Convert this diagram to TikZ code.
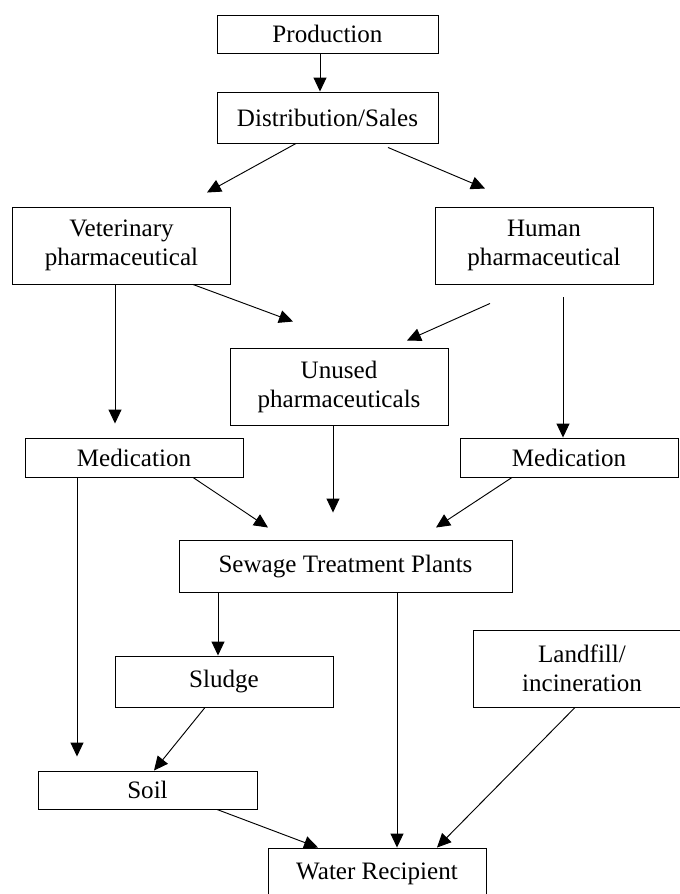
\documentclass[tikz,border=0pt]{standalone}
\usepackage{fontspec}
\setmainfont{Liberation Serif}
\usepackage{tikz}
\usetikzlibrary{arrows.meta}

\begin{document}
\begin{tikzpicture}[
x=0.03cm,y=-0.03cm,
box/.style={draw,rectangle,line width=0.8pt,inner sep=0pt,minimum width=6.54cm,align=center,
    font=\fontsize{21.4}{24.7}\selectfont},
flow/.style={line width=0.8pt,-{Triangle[length=0.42cm,width=0.39cm]}}]
\useasboundingbox (0,0) rectangle (680,894);
\clip (0,0) rectangle (680,894);

\node (prod) [box,minimum width=6.63cm,minimum height=1.14cm] at (327.5,34) {Production};
\node (dist) [box,minimum width=6.63cm,minimum height=1.53cm] at (327.5,117.5) {Distribution/Sales};
\node (vet) [box,minimum height=2.31cm] at (121.5,245.5) {Veterinary\\pharmaceutical};
\node (hum) [box,minimum height=2.31cm] at (544,245.5) {Human\\pharmaceutical};
\node (unused) [box,minimum height=2.31cm] at (339,386.5) {Unused\\pharmaceuticals};
\node (medl) [box,minimum height=1.17cm] at (134,457.5) {Medication};
\node (medr) [box,minimum height=1.17cm] at (569,457.5) {Medication};
\node (stp) [box,minimum width=9.99cm,minimum height=1.56cm] at (345.5,566) {Sewage Treatment Plants};
\node (sludge) [box,minimum height=1.53cm] at (224,681.5) {Sludge};
\node (landfill) [box,minimum height=2.31cm] at (582,668.5) {Landfill/\\incineration};
\node (soil) [box,minimum width=6.57cm,minimum height=1.14cm] at (147.5,790) {Soil};
\node (water) [box,minimum height=1.56cm] at (377,874) {\raisebox{0.18cm}{Water Recipient}};

\draw [flow] ([shift={(-7.5,0)}]prod.south) -- ([shift={(-7.5,0)}]dist.north);
\draw [flow] ([shift={(-31.5,0)}]dist.south) -- ([shift={(85.5,-14)}]vet.north);
\draw [flow] ([shift={(60.5,4)}]dist.south) -- ([shift={(-59,-18)}]hum.north);
\draw [flow] ([shift={(71.5,0)}]vet.south) -- ([shift={(-46,-26)}]unused.north);
\draw [flow] ([shift={(-6.5,0)}]vet.south) -- ([shift={(-19,-14)}]medl.north);
\draw [flow] ([shift={(-54,19)}]hum.south) -- ([shift={(68,-7)}]unused.north);
\draw [flow] ([shift={(19,13)}]hum.south) -- ([shift={(-6,0)}]medr.north);
\draw [flow] ([shift={(-6,0)}]unused.south) -- ([shift={(-12.5,-27)}]stp.north);
\draw [flow] ([shift={(59,0)}]medl.south) -- ([shift={(-77.5,-12)}]stp.north);
\draw [flow] ([shift={(-57,0)}]medr.south) -- ([shift={(90.5,-12)}]stp.north);
\draw [flow] ([shift={(-57,0)}]medl.south) -- ([shift={(-70.5,-14)}]soil.north);
\draw [flow] ([shift={(-127.5,0)}]stp.south) -- ([shift={(-6,0)}]sludge.north);
\draw [flow] ([shift={(51.5,0)}]stp.south) -- ([shift={(20,0)}]water.north);
\draw [flow] ([shift={(-19,0)}]sludge.south) -- ([shift={(6.5,0)}]soil.north);
\draw [flow] ([shift={(69.5,0)}]soil.south) -- ([shift={(-59,0)}]water.north);
\draw [flow] ([shift={(-7,0)}]landfill.south) -- ([shift={(60,0)}]water.north);
\end{tikzpicture}
\end{document}
